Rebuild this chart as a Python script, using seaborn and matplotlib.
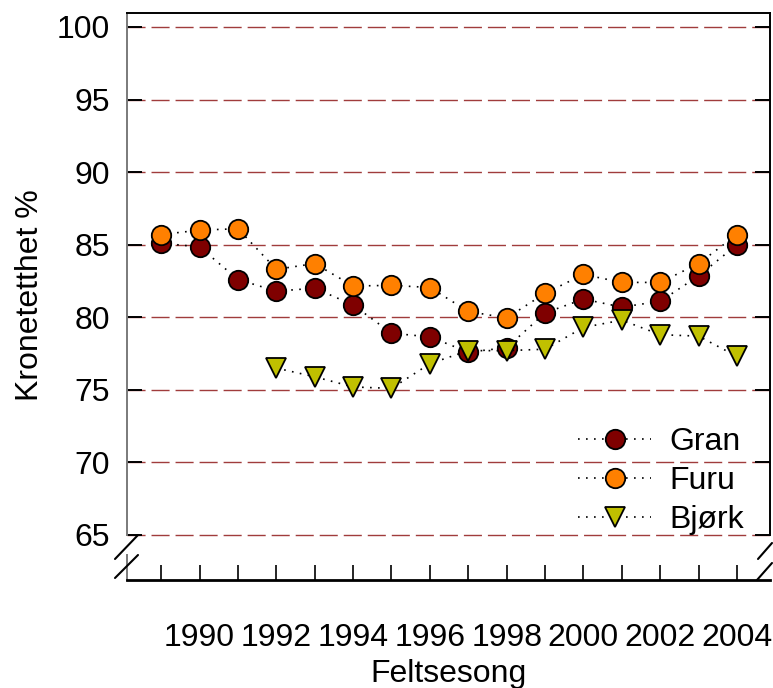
import matplotlib
matplotlib.use('Agg')
import matplotlib.pyplot as plt
import seaborn as sns
import numpy as np
import pandas as pd

sns.set_theme(style='ticks')
plt.rcParams['font.family'] = ['Liberation Sans', 'DejaVu Sans']
plt.rcParams['text.color'] = 'black'
plt.rcParams['axes.labelcolor'] = 'black'
plt.rcParams['xtick.color'] = 'black'
plt.rcParams['ytick.color'] = 'black'

# data
years = list(range(1989, 2005))
gran = [85.1, 84.85, 82.6, 81.8, 82.0, 80.85, 78.9, 78.65,
        77.6, 77.9, 80.3, 81.25, 80.7, 81.1, 82.85, 85.0]
furu = [85.7, 86.0, 86.1, 83.3, 83.7, 82.15, 82.2, 82.05,
        80.4, 79.95, 81.65, 82.95, 82.4, 82.4, 83.7, 85.7]
bjork_years = list(range(1992, 2005))
bjork = [76.5, 75.9, 75.2, 75.1, 76.8, 77.7, 77.7, 77.8,
         79.3, 79.8, 78.8, 78.7, 77.3]
yticks = [65, 70, 75, 80, 85, 90, 95, 100]

W, H = 773, 688
fig = plt.figure(figsize=(W / 100, H / 100), dpi=100)

def fx(px):
    return px / W

def fy(py):
    return 1 - py / H

left, right = 127, 770
ax = fig.add_axes([fx(left), fy(535), fx(right - left), fy(13) - fy(535)])
axb = fig.add_axes([fx(left), fy(580), fx(right - left), fy(555) - fy(580)], sharex=ax)

series = [('Gran', years, gran, 'o', '#7f0000'),
          ('Furu', years, furu, 'o', '#ff8000'),
          ('Bjørk', bjork_years, bjork, 'v', '#c0c000')]

for name, xs, ys, mk, col in series:
    df = pd.DataFrame({'year': xs, 'val': ys})
    sns.lineplot(data=df, x='year', y='val', ax=ax, color='black',
                 linestyle=(0, (1, 3.8)), linewidth=1.2, marker=mk, markersize=14,
                 markerfacecolor=col, markeredgecolor='black',
                 markeredgewidth=1.3, label=name)

ax.set_xlim(1988.11, 2004.86)
ax.set_ylim(65, 100.96)
ax.set_yticks(yticks)
ax.yaxis.grid(True, linestyle=(0, (13, 4.3)), color='#a03c3c', linewidth=1.0)
for gl in ax.yaxis.get_gridlines():
    gl.set_clip_on(False)
ax.set_axisbelow(True)
ax.tick_params(axis='y', direction='in', length=11, width=1.4, labelsize=23,
               left=True, right=True, pad=12)
ax.tick_params(axis='x', bottom=False, labelbottom=False)
ax.spines['bottom'].set_visible(False)
ax.spines['left'].set_color('#7a7a7a')
ax.spines['left'].set_linewidth(1.4)
ax.spines['right'].set_linewidth(1.4)
ax.spines['top'].set_linewidth(1.4)
ax.spines['right'].set_color('black')
ax.spines['top'].set_color('black')
ax.set_xlabel('')
ax.set_ylabel('Kronetetthet %', fontsize=23)
ax.yaxis.set_label_coords(-0.128, 0.46)

leg = ax.legend(loc='upper left', bbox_to_anchor=(fx(578), fy(427)),
                bbox_transform=fig.transFigure, frameon=False,
                fontsize=23, handlelength=2.3, handletextpad=0.55,
                labelspacing=0.28, borderaxespad=0, borderpad=0)

# lower broken-axis strip carrying the x ticks
axb.set_ylim(0, 1)
axb.set_yticks([])
axb.set_xticks(years)
axb.set_xticklabels([str(y) if y % 2 == 0 else '' for y in years])
axb.tick_params(axis='x', direction='in', length=11, width=1.2, labelsize=23,
                pad=31)
axb.spines['top'].set_visible(False)
axb.spines['right'].set_visible(False)
axb.spines['left'].set_color('#7a7a7a')
axb.spines['left'].set_linewidth(1.4)
axb.spines['bottom'].set_linewidth(2.0)
axb.spines['bottom'].set_color('black')
axb.set_xlabel('Feltsesong', fontsize=23)
axb.xaxis.set_label_coords(0.5, -3.14)
axb.patch.set_alpha(0)

# break marks
for (x0, y0, x1, y1) in [(115, 559, 138, 535), (115, 578, 138, 555),
                         (758, 559, 772, 543), (757, 580, 772, 563)]:
    fig.add_artist(plt.Line2D([fx(x0), fx(x1)], [fy(y0), fy(y1)],
                              color='black', linewidth=1.5,
                              transform=fig.transFigure))

plt.savefig('out.png', dpi=100)
